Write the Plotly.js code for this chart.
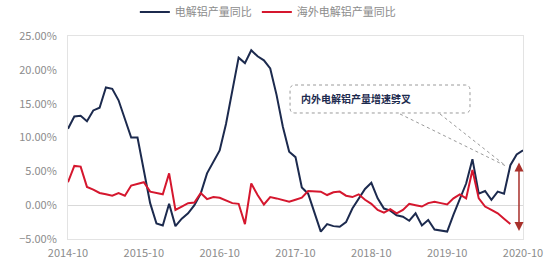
<!DOCTYPE html>
<html>
<head>
<meta charset="utf-8">
<script src="https://cdn.plot.ly/plotly-3.0.1.min.js"></script>
<style>
html,body{margin:0;padding:0;background:#fff;}
#chart{width:550px;height:267px;}
</style>
</head>
<body>
<div id="chart"></div>
<script>
// Monthly, 2014-10 .. 2020-10
const startYear = 2014, startMonth = 10, monthCount = 73;
const months = [];
for (let i = 0; i < monthCount; i++) {
  const m = startMonth - 1 + i;
  const y = startYear + Math.floor(m / 12);
  const mm = (m % 12) + 1;
  months.push(y + '-' + (mm < 10 ? '0' + mm : mm));
}

const seriesNames = ['电解铝产量同比', '海外电解铝产量同比'];

// 电解铝产量同比 (%)
const chinaYoY = [
  11.3, 13.1, 13.2, 12.4, 14.0, 14.4, 17.4, 17.2, 15.5, 12.6, 10.0, 10.0,
  5.2, 0.3, -2.7, -3.0, 0.2, -3.1, -2.0, -1.2, 0.0, 1.7, 4.7, 6.4,
  8.1, 12.0, 17.0, 21.8, 21.0, 22.9, 22.0, 21.4, 20.2, 16.3, 11.6, 7.9,
  7.1, 2.6, 1.7, -1.1, -3.9, -2.8, -3.1, -3.2, -2.5, -0.5, 1.0, 2.4,
  3.3, 1.0, -0.5, -0.8, -1.5, -1.7, -2.3, -1.2, -3.0, -2.2, -3.6, -3.8,
  -3.9, -1.4, 1.0, 3.2, 6.8, 1.7, 2.1, 0.8, 2.0, 1.7, 5.9, 7.5,
  8.1
];

// 海外电解铝产量同比 (%)
const overseasYoY = [
  3.4, 5.8, 5.7, 2.7, 2.3, 1.8, 1.6, 1.4, 1.8, 1.4, 2.9, 3.2,
  3.4, 2.0, 1.8, 1.6, 4.7, -0.7, -0.2, 0.3, 0.4, 1.8, 0.9, 1.2,
  1.1, 0.7, 0.3, 0.2, -2.8, 3.2, 1.5, 0.1, 1.2, 1.0, 0.7, 0.5,
  0.8, 1.1, 2.1, 2.0, 2.0, 1.5, 1.9, 2.0, 1.4, 1.2, 1.6, 0.8,
  0.2, -0.7, -1.1, -0.6, -1.2, -0.7, 0.2, 0.0, -0.2, 0.3, 0.5, 0.3,
  0.1, 1.0, 1.6, 1.0, 5.2, 1.0, -0.2, -0.7, -1.2, -2.0, -2.8
];

const tickLabels = ['2014-10', '2015-10', '2016-10', '2017-10', '2018-10', '2019-10', '2020-10'];
const calloutText = '内外电解铝产量增速劈叉';

const gray = '#8c8c8c';
const fontFam = '"Noto Sans CJK SC", "Noto Sans", sans-serif';

const traces = [
  {
    x: months, y: chinaYoY, name: seriesNames[0], type: 'scatter', mode: 'lines',
    line: {color: '#1c2a4e', width: 2}
  },
  {
    x: months.slice(0, overseasYoY.length), y: overseasYoY, name: seriesNames[1], type: 'scatter', mode: 'lines',
    line: {color: '#d5172e', width: 2}
  }
];

const layout = {
  width: 550, height: 267,
  margin: {l: 68, r: 27, t: 36, b: 28},
  paper_bgcolor: '#fff', plot_bgcolor: '#fff',
  font: {family: fontFam, color: gray, size: 11},
  showlegend: true,
  legend: {
    orientation: 'h', xref: 'container', yref: 'container',
    x: 0.487, xanchor: 'center', y: 0.955, yanchor: 'middle',
    font: {size: 11, color: gray, family: fontFam},
    itemwidth: 30, tracegroupgap: 0
  },
  xaxis: {
    type: 'category', range: [0, 72],
    tickmode: 'array', tickvals: tickLabels, ticktext: tickLabels,
    showgrid: false, zeroline: false, ticks: '',
    showline: true, mirror: true, linecolor: '#e3e3e3', linewidth: 1,
    tickfont: {size: 11, color: gray}, ticklabelstandoff: 4
  },
  yaxis: {
    range: [-5, 25], dtick: 5, tickformat: '.2f', ticksuffix: '%',
    showgrid: false, zeroline: true, zerolinecolor: '#d9d9d9', zerolinewidth: 1,
    showline: true, mirror: true, linecolor: '#e3e3e3', linewidth: 1, ticks: '',
    tickfont: {size: 11, color: gray}, ticklabelstandoff: 8
  },
  shapes: [
    {
      type: 'path', xref: 'paper', yref: 'paper',
      path: 'M 0.499,0.7586 L 0.8725,0.7586 Q 0.8835,0.7586 0.8835,0.734 L 0.8835,0.645 Q 0.8835,0.6207 0.8725,0.6207 L 0.499,0.6207 Q 0.488,0.6207 0.488,0.645 L 0.488,0.734 Q 0.488,0.7586 0.499,0.7586 Z',
      line: {color: '#9a9a9a', width: 1, dash: 'dot'}, fillcolor: 'rgba(0,0,0,0)'
    },
    {
      type: 'line', xref: 'paper', yref: 'paper',
      x0: 0.7297, y0: 0.6158, x1: 0.9626, y1: 0.3596,
      line: {color: '#9a9a9a', width: 1, dash: 'dot'}
    },
    {
      type: 'line', xref: 'paper', yref: 'paper',
      x0: 0.8176, y0: 0.6158, x1: 0.9626, y1: 0.3596,
      line: {color: '#9a9a9a', width: 1, dash: 'dot'}
    }
  ],
  annotations: [
    {
      xref: 'paper', yref: 'paper', x: 0.508, y: 0.69, xanchor: 'left', yanchor: 'middle',
      text: '<b>' + calloutText + '</b>', showarrow: false,
      font: {size: 10, color: '#1c2a4e', family: fontFam}
    },
    {
      xref: 'paper', yref: 'paper', x: 0.9912, y: 0.04, ax: 0.9912, ay: 0.3842,
      axref: 'paper', ayref: 'paper',
      text: '', showarrow: true, arrowside: 'end+start', arrowhead: 2, arrowsize: 1.2,
      arrowwidth: 1.5, arrowcolor: '#a8302b', standoff: 0, startstandoff: 0
    }
  ]
};

Plotly.newPlot('chart', traces, layout, {staticPlot: true, displayModeBar: false});
</script>
</body>
</html>
